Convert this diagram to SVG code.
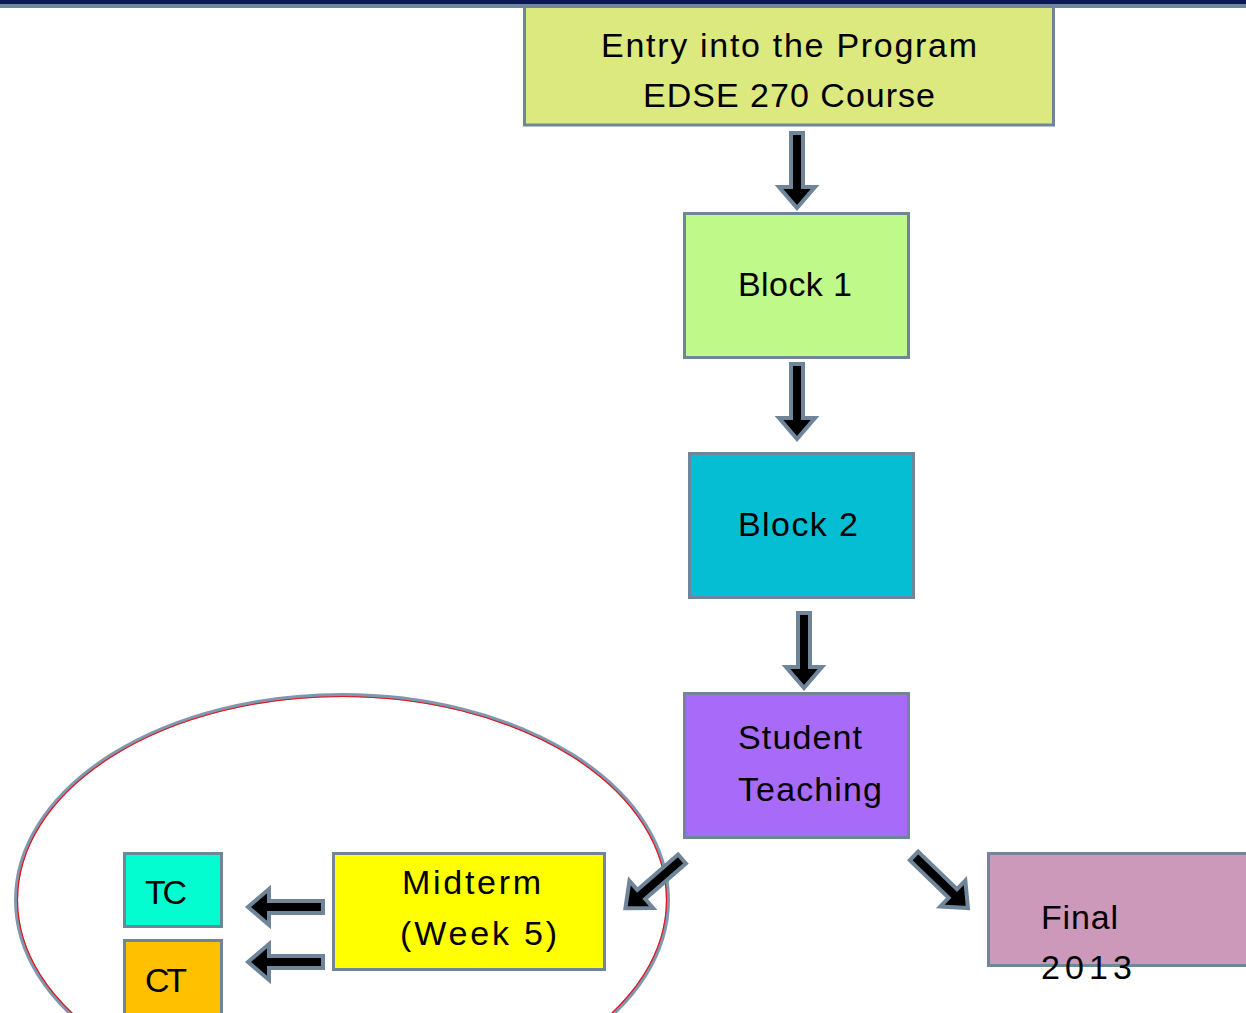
<svg xmlns="http://www.w3.org/2000/svg" xmlns:xlink="http://www.w3.org/1999/xlink" width="1246" height="1013" viewBox="0 0 1246 1013">
<style>
.box{stroke:#6f8599;stroke-width:3}
.t{font-family:"Liberation Sans",Arial,sans-serif;font-size:34px;fill:#000}
.arr{fill:#000;stroke:#6f8599;stroke-width:4;stroke-linejoin:miter}
</style>
<defs>
<path id="arrow" class="arr" d="M0,-6 L54,-6 L54,-18 L75,0 L54,18 L54,6 L0,6 Z"/>
</defs>
<rect x="0" y="0" width="1246" height="1013" fill="#fff"/>
<g id="ellipse-group">
<ellipse cx="342" cy="900" rx="326" ry="205" fill="none" stroke="#7f98b0" stroke-width="4"/>
<ellipse cx="342" cy="900" rx="324.5" ry="203.5" fill="none" stroke="#e8141c" stroke-width="1.2"/>
</g>
<g id="connectors">
<use xlink:href="#arrow" transform="translate(797,133) rotate(90)"/>
<use xlink:href="#arrow" transform="translate(797,364) rotate(90)"/>
<use xlink:href="#arrow" transform="translate(804,613) rotate(90)"/>
<use xlink:href="#arrow" transform="translate(682,859) rotate(139)"/>
<use xlink:href="#arrow" transform="translate(914,856) rotate(44)"/>
<use xlink:href="#arrow" transform="translate(323,907) rotate(180)"/>
<use xlink:href="#arrow" transform="translate(323,962) rotate(180)"/>
</g>
<g id="entry">
<rect class="box" x="524.5" y="4" width="529" height="121" fill="#dce97e"/>
<text class="t" x="601" y="57" textLength="376" lengthAdjust="spacing">Entry into the Program</text>
<text class="t" x="643" y="107" textLength="292" lengthAdjust="spacing">EDSE 270 Course</text>
</g>
<g id="block1">
<rect class="box" x="684.5" y="213.5" width="224" height="144" fill="#bef98a"/>
<text class="t" x="738" y="296" textLength="114" lengthAdjust="spacing">Block 1</text>
</g>
<g id="block2">
<rect class="box" x="689.5" y="453.5" width="224" height="144" fill="#06bed4"/>
<text class="t" x="738" y="536" textLength="120" lengthAdjust="spacing">Block 2</text>
</g>
<g id="student">
<rect class="box" x="684.5" y="693.5" width="224" height="144" fill="#a86af9"/>
<text class="t" x="738" y="749" textLength="124" lengthAdjust="spacing">Student</text>
<text class="t" x="738" y="801" textLength="144" lengthAdjust="spacing">Teaching</text>
</g>
<g id="midterm">
<rect class="box" x="333.5" y="853.5" width="271" height="116" fill="#ffff00"/>
<text class="t" x="402" y="894" textLength="139" lengthAdjust="spacing">Midterm</text>
<text class="t" x="400" y="945" textLength="157" lengthAdjust="spacing">(Week 5)</text>
</g>
<g id="tc">
<rect class="box" x="124.5" y="853.5" width="97" height="73" fill="#03fdd0"/>
<text class="t" x="145" y="904" textLength="42" lengthAdjust="spacing">TC</text>
</g>
<g id="ct">
<rect class="box" x="124.5" y="940.5" width="97" height="80" fill="#ffc000"/>
<text class="t" x="145" y="992" textLength="42" lengthAdjust="spacing">CT</text>
</g>
<g id="final">
<rect class="box" x="988.5" y="853.5" width="266" height="112" fill="#cc99bb"/>
<text class="t" x="1041" y="929" textLength="77" lengthAdjust="spacing">Final</text>
<text class="t" x="1041" y="979" textLength="91" lengthAdjust="spacing">2013</text>
</g>
<g id="topband">
<rect x="0" y="0" width="1246" height="4" fill="#0b1856"/>
<rect x="0" y="4" width="1246" height="4" fill="#6f8599"/>
</g>
</svg>
